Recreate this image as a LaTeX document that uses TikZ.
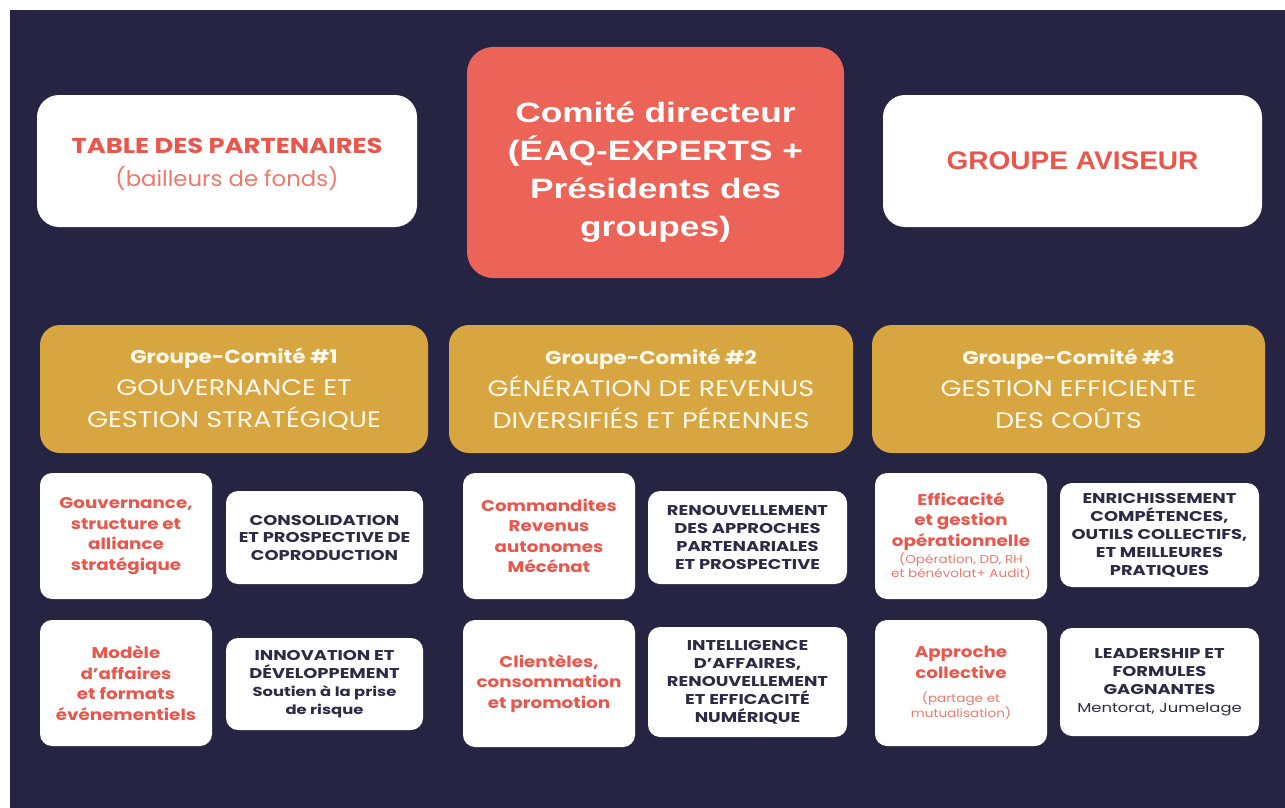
\documentclass[tikz,border=0pt]{standalone}
\usepackage{fontspec}
\setmainfont{Poppins}
\newfontfamily\popT[FakeStretch=1.2]{Poppins}
\newfontfamily\popB[FakeStretch=1.06]{Poppins}
\newfontfamily\popH[FakeStretch=1.15]{Poppins}
\newfontfamily\popHR[FakeStretch=1.2]{Poppins}
\newfontfamily\popR[FakeStretch=1.18]{Poppins}
\newfontfamily\popD[FakeStretch=1.26]{Poppins}
\newfontfamily\arD[FakeStretch=1.26]{Liberation Sans}
\newfontfamily\arG[FakeStretch=1.1]{Liberation Sans}
\definecolor{bgnavy}{HTML}{252442}
\definecolor{coral}{HTML}{EC6458}
\definecolor{gold}{HTML}{D8A640}
\definecolor{redtxt}{HTML}{E9574C}
\definecolor{lightred}{HTML}{EC7A6C}
\definecolor{darktxt}{HTML}{2B2B45}
\definecolor{cream}{HTML}{FFF8EC}
\newcommand{\smallred}{\popR\mdseries\color{lightred}\fontsize{11.5}{14}\selectfont}
\newcommand{\hdrline}{\popHR\mdseries\fontsize{22.5}{32}\selectfont}
\tikzset{
  bigbox/.style={rounded corners=22pt, fill=white, inner sep=0pt, align=center},
  plaintext/.style={inner sep=0pt, align=center},
  dirbox/.style={rounded corners=26pt, fill=coral, inner sep=0pt},
  dirtext/.style={inner sep=0pt, align=center, text=white,
    font=\arD\bfseries\fontsize{28}{38}\selectfont},
  goldbox/.style={rounded corners=20pt, fill=gold, inner sep=0pt, align=center, text=cream,
    font=\popH\bfseries\fontsize{18.7}{32}\selectfont},
  smallbox/.style={rounded corners=12pt, fill=white, inner sep=0pt, align=center},
  redtext/.style={text=redtxt, font=\popR\bfseries\fontsize{15.5}{20.5}\selectfont},
  darktext/.style={text=darktxt, font=\popD\bfseries\fontsize{14.2}{18}\selectfont},
}
\begin{document}
\begin{tikzpicture}[x=1pt,y=-1pt]
\useasboundingbox (0,0) rectangle (1285,808);
\fill[white] (0,0) rectangle (1285,808);
\fill[bgnavy] (10,10) rectangle (1285,808);

% top row
\node[bigbox, minimum width=380pt, minimum height=132pt] (tp) at (227,161) {};
\node[plaintext, font=\popT\bfseries\fontsize{21.5}{33}\selectfont, text=redtxt] (tpt) at (227,164)
  {TABLE DES PARTENAIRES\\
   \popB\mdseries\color{lightred}(bailleurs de fonds)};
\node[dirbox, minimum width=377pt, minimum height=231pt] (cd) at (655.5,162.5) {};
\node[dirtext] (cdt) at (655.5,172)
  {Comité directeur\\(ÉAQ-EXPERTS +\\Présidents des\\groupes)};
\node[bigbox, minimum width=379pt, minimum height=132pt,
      font=\arG\bfseries\fontsize{25.5}{30}\selectfont, text=redtxt] (ga) at (1072.5,161)
  {GROUPE AVISEUR};

% groupe-comite row
\node[goldbox, minimum width=388pt, minimum height=128pt] (g1) at (234,389)
  {Groupe-Comité \#1\\\hdrline GOUVERNANCE ET\\\hdrline GESTION STRATÉGIQUE};
\node[goldbox, minimum width=404pt, minimum height=128pt] (g2) at (651,389)
  {Groupe-Comité \#2\\\hdrline GÉNÉRATION DE REVENUS\\\hdrline DIVERSIFIÉS ET PÉRENNES};
\node[goldbox, minimum width=393pt, minimum height=128pt] (g3) at (1068.5,389)
  {Groupe-Comité \#3\\\hdrline GESTION EFFICIENTE\\\hdrline DES COÛTS};

% column 1
\node[smallbox, minimum width=172pt, minimum height=126pt, redtext] (a1) at (126,536)
  {Gouvernance,\\structure et\\alliance\\stratégique};
\node[smallbox, minimum width=197pt, minimum height=93pt, darktext] (b1) at (324.5,537.5)
  {CONSOLIDATION\\[-0.5pt]ET PROSPECTIVE DE\\[-0.5pt]COPRODUCTION};
\node[smallbox, minimum width=172pt, minimum height=126pt, redtext] (a2) at (126,683)
  {Modèle\\d’affaires\\et formats\\événementiels};
\node[smallbox, minimum width=197pt, minimum height=92pt, darktext] (b2) at (324.5,684)
  {INNOVATION ET\\DÉVELOPPEMENT\\\fontsize{13}{18}\selectfont Soutien à la prise\\\fontsize{13}{18}\selectfont de risque};

% column 2
\node[smallbox, minimum width=172pt, minimum height=126pt, redtext] (c1) at (549,536)
  {Commandites\\Revenus\\autonomes\\Mécénat};
\node[smallbox, minimum width=199pt, minimum height=93pt, darktext] (d1) at (747.5,537.5)
  {RENOUVELLEMENT\\DES APPROCHES\\PARTENARIALES\\ET PROSPECTIVE};
\node[smallbox, minimum width=172pt, minimum height=127pt, redtext] (c2) at (549,683.5)
  {Clientèles,\\consommation\\et promotion};
\node[smallbox, minimum width=199pt, minimum height=110pt, darktext] (d2) at (747.5,682)
  {INTELLIGENCE\\D’AFFAIRES,\\RENOUVELLEMENT\\ET EFFICACITÉ\\NUMÉRIQUE};

% column 3
\node[smallbox, minimum width=172pt, minimum height=126pt, redtext] (e1) at (961,536)
  {Efficacité\\et gestion\\opérationnelle\\[-3pt]
   \smallred (Opération, DD, RH\\[-6.5pt]\smallred et bénévolat+ Audit)};
\node[smallbox, minimum width=199pt, minimum height=104pt, darktext] (f1) at (1159.5,535)
  {ENRICHISSEMENT\\COMPÉTENCES,\\OUTILS COLLECTIFS,\\ET MEILLEURES\\PRATIQUES};
\node[smallbox, minimum width=172pt, minimum height=126pt, redtext] (e2) at (961,683)
  {Approche\\collective\\[3.5pt]
   \smallred (partage et\\[-5.5pt]\smallred mutualisation)};
\node[smallbox, minimum width=199pt, minimum height=108pt, darktext] (f2) at (1159.5,682)
  {LEADERSHIP ET\\FORMULES\\GAGNANTES\\\mdseries\fontsize{13}{18}\selectfont Mentorat, Jumelage};
\end{tikzpicture}
\end{document}
